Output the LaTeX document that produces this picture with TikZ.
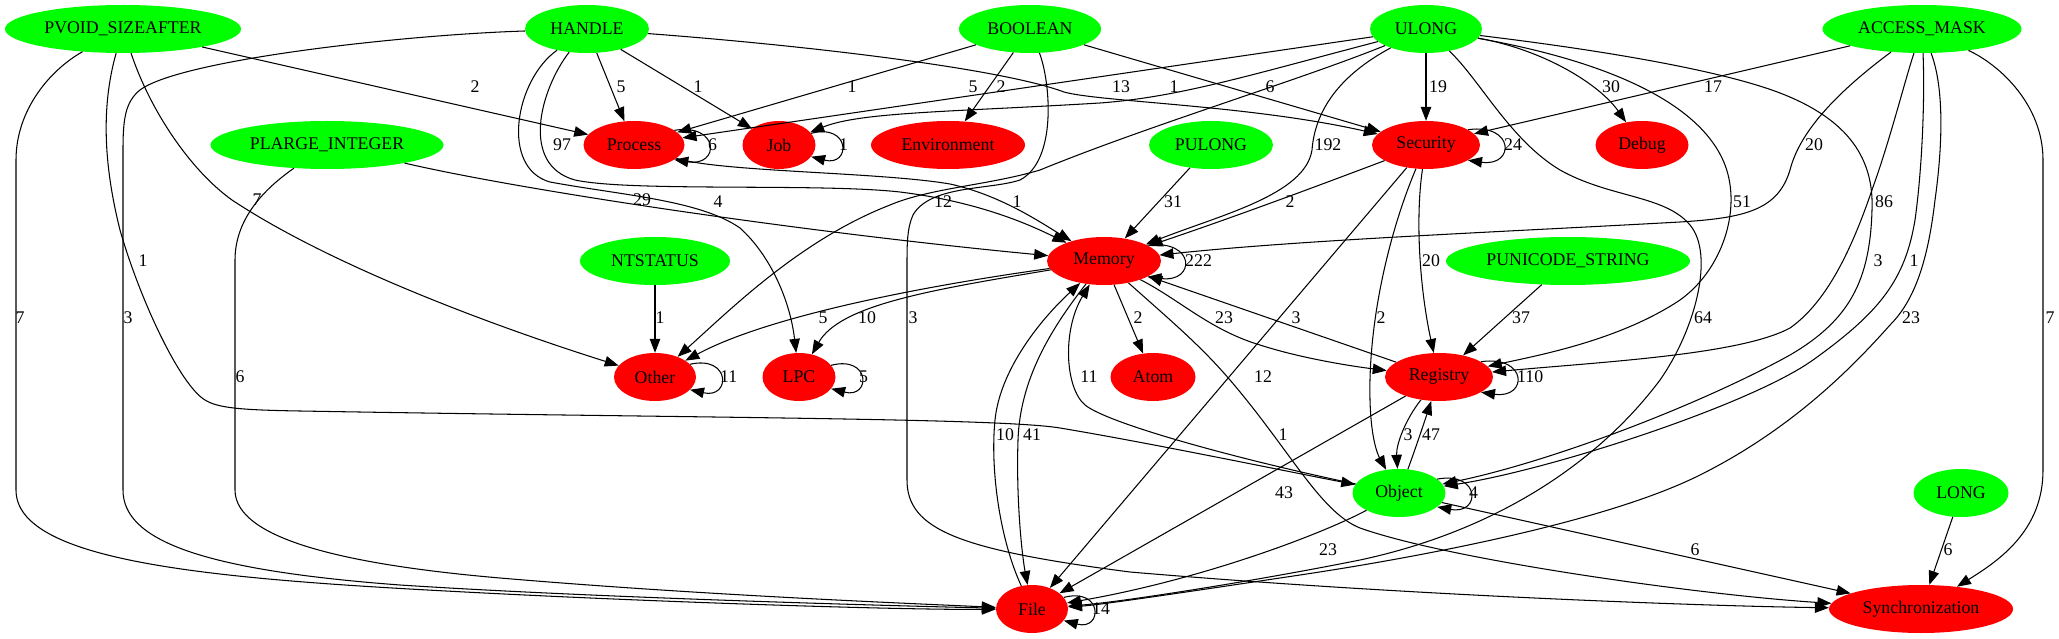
\documentclass[tikz,border=0pt]{standalone}
\usepackage{fontspec}
\setmainfont{Liberation Serif}
\usetikzlibrary{shapes.geometric,arrows.meta}
\definecolor{gvgreen}{RGB}{0,255,0}
\definecolor{gvred}{RGB}{255,0,0}
\begin{document}
\begin{tikzpicture}[x=1pt,y=-1pt,font=\fontsize{17.8}{20}\selectfont,
  gnode/.style={ellipse,fill=gvgreen,draw=none,inner sep=0pt,minimum height=48pt},
  rnode/.style={ellipse,fill=gvred,draw=none,inner sep=0pt,minimum height=48pt},
  conn/.style={draw=black,line width=1.05pt,-{Triangle[length=14pt,width=10.5pt]}},
  elab/.style={inner sep=0pt},
  looplab/.style={inner sep=0pt,anchor=west}]
\useasboundingbox (0,0) rectangle (2059,639);
% nodes
\node[gnode,minimum width=236pt] (PV) at (123,29) {PVOID\_SIZEAFTER};
\node[gnode,minimum width=124pt] (HA) at (587,29) {HANDLE};
\node[gnode,minimum width=142pt] (BO) at (1030,29) {BOOLEAN};
\node[gnode,minimum width=112pt] (UL) at (1426,29) {ULONG};
\node[gnode,minimum width=199pt] (AM) at (1922,29) {ACCESS\_MASK};
\node[gnode,minimum width=233pt] (PL) at (327,145) {PLARGE\_INTEGER};
\node[rnode,minimum width=101pt] (PR) at (634,145) {Process};
\node[rnode,minimum width=73pt] (JO) at (779,145) {Job};
\node[rnode,minimum width=154pt] (EN) at (948,145) {Environment};
\node[gnode,minimum width=124pt] (PU) at (1211,145) {PULONG};
\node[rnode,minimum width=108pt] (SE) at (1426,145) {Security};
\node[rnode,minimum width=93pt] (DE) at (1642,145) {Debug};
\node[gnode,minimum width=150pt] (NT) at (655,261) {NTSTATUS};
\node[rnode,minimum width=114pt] (ME) at (1104,261) {Memory};
\node[gnode,minimum width=244pt] (PS) at (1568,261) {PUNICODE\_STRING};
\node[rnode,minimum width=82pt] (OT) at (655,377) {Other};
\node[rnode,minimum width=73pt] (LP) at (799,377) {LPC};
\node[rnode,minimum width=85pt] (AT) at (1153,377) {Atom};
\node[rnode,minimum width=108pt] (RE) at (1439,377) {Registry};
\node[gnode,minimum width=93pt] (OB) at (1399,493) {Object};
\node[gnode,minimum width=95pt] (LO) at (1961,493) {LONG};
\node[rnode,minimum width=72pt] (FI) at (1032,609) {File};
\node[rnode,minimum width=184pt] (SY) at (1921,609) {Synchronization};
% straight edges
\draw[conn] (PV) -- (PR);
\draw[conn] (HA) -- (PR);
\draw[conn] (HA) -- (JO);
\draw[conn] (BO) -- (PR);
\draw[conn] (UL) -- (PR);
\draw[conn] (BO) -- (EN);
\draw[conn] (BO) -- (SE);
\draw[conn] (UL) -- (SE);
\draw[conn] (AM) -- (SE);
\draw[conn] (PU) -- (ME);
\draw[conn] (ME) -- (AT);
\draw[conn] (RE) -- (ME);
\draw[conn] (SE) -- (FI);
\draw[conn] (PS) -- (RE);
\draw[conn] (NT) -- (OT);
\draw[conn] (RE) -- (FI);
\draw[conn] (OB) -- (SY);
\draw[conn] (LO) -- (SY);
% curved edges
\draw[conn] (HA) .. controls (800,45) and (1000,68) .. (1064,92) .. controls (1100,102) and (1250,105) .. (SE);
\draw[conn] (UL) .. controls (1250,75) and (1180,97) .. (1100,103) .. controls (950,112) and (860,112) .. (JO);
\draw[conn] (UL) .. controls (1545,50) and (1600,85) .. (DE);
\draw[conn] (PL) .. controls (520,190) and (800,232) .. (ME);
\draw[conn] (PR) .. controls (720,172) and (880,172) .. (950,184) .. controls (1000,195) and (1040,222) .. (ME);
\draw[conn] (HA) .. controls (540,90) and (520,165) .. (575,180) .. controls (630,192) and (820,183) .. (900,192) .. controls (980,202) and (1030,225) .. (ME);
\draw[conn] (HA) .. controls (515,80) and (500,168) .. (550,182) .. controls (620,195) and (700,200) .. (740,228) .. controls (770,255) and (790,300) .. (LP);
\draw[conn] (UL) .. controls (1340,75) and (1315,110) .. (1312,150) .. controls (1305,195) and (1220,215) .. (ME);
\draw[conn] (SE) .. controls (1320,185) and (1240,215) .. (ME);
\draw[conn] (AM) .. controls (1840,90) and (1800,130) .. (1790,170) .. controls (1778,210) and (1745,218) .. (1680,222) .. controls (1500,232) and (1300,240) .. (ME);
\draw[conn] (ME) .. controls (930,285) and (770,315) .. (OT);
\draw[conn] (ME) .. controls (930,290) and (840,305) .. (LP);
\draw[conn] (ME) .. controls (1180,300) and (1210,330) .. (1260,345) .. controls (1300,358) and (1350,366) .. (RE);
\draw[conn] (SE) .. controls (1415,220) and (1420,290) .. (RE);
\draw[conn] (SE) .. controls (1390,230) and (1368,320) .. (1370,400) .. controls (1371,440) and (1378,455) .. (OB);
\draw[conn] (UL) .. controls (1300,80) and (1150,125) .. (1040,170) .. controls (990,185) and (930,188) .. (890,205) .. controls (800,240) and (730,310) .. (OT);
\draw[conn] (BO) .. controls (1050,80) and (1058,160) .. (1020,180) .. controls (990,190) and (930,185) .. (913,215) .. controls (907,228) and (907,245) .. (907,265) -- (907,480) .. controls (907,530) and (960,550) .. (1130,572) .. controls (1400,595) and (1700,606) .. (SY);
\draw[conn] (HA) .. controls (400,35) and (180,60) .. (140,90) .. controls (125,102) and (123,120) .. (123,150) -- (123,490) .. controls (123,540) and (200,570) .. (400,585) .. controls (600,598) and (900,606) .. (FI);
\draw[conn] (PV) .. controls (50,70) and (16,110) .. (16,160) -- (16,490) .. controls (16,560) and (200,578) .. (446,591) .. controls (650,602) and (900,610) .. (FI);
\draw[conn] (PL) .. controls (270,185) and (235,215) .. (235,260) -- (235,490) .. controls (235,540) and (350,565) .. (500,578) .. controls (700,595) and (900,603) .. (FI);
\draw[conn] (PV) .. controls (150,110) and (190,170) .. (232,200) .. controls (330,265) and (490,325) .. (OT);
\draw[conn] (PV) .. controls (100,110) and (105,170) .. (120,230) .. controls (140,300) and (180,385) .. (205,400) .. controls (218,408) and (240,410) .. (300,411) .. controls (700,418) and (1000,418) .. (1060,428) .. controls (1150,443) and (1280,470) .. (OB);
\draw[conn] (OB) .. controls (1250,462) and (1110,425) .. (1085,405) .. controls (1065,388) and (1062,330) .. (ME);
\draw[conn] (FI) .. controls (1000,540) and (990,470) .. (995,420) .. controls (1000,370) and (1040,320) .. (ME);
\draw[conn] (ME) .. controls (1050,330) and (1020,380) .. (1018,440) .. controls (1016,500) and (1022,555) .. (FI);
\draw[conn] (ME) .. controls (1170,320) and (1200,345) .. (1230,380) .. controls (1290,450) and (1320,512) .. (1360,528) .. controls (1450,560) and (1700,595) .. (SY);
\draw[conn] (RE) .. controls (1405,420) and (1396,445) .. (OB);
\draw[conn] (OB) .. controls (1415,450) and (1425,420) .. (RE);
\draw[conn] (OB) .. controls (1320,535) and (1200,580) .. (FI);
\draw[conn] (AM) .. controls (2000,65) and (2043,105) .. (2043,160) -- (2043,470) .. controls (2043,530) and (2000,560) .. (SY);
\draw[conn] (AM) .. controls (1945,90) and (1942,150) .. (1935,200) .. controls (1928,260) and (1915,300) .. (1890,325) .. controls (1850,370) and (1790,430) .. (1700,475) .. controls (1600,525) and (1400,560) .. (1300,575) .. controls (1200,590) and (1100,605) .. (FI);
\draw[conn] (UL) .. controls (1480,80) and (1510,140) .. (1560,170) .. controls (1610,198) and (1665,195) .. (1690,225) .. controls (1715,255) and (1695,330) .. (1660,380) .. controls (1600,460) and (1500,530) .. (1360,560) .. controls (1250,582) and (1120,602) .. (FI);
\draw[conn] (UL) .. controls (1600,50) and (1720,70) .. (1780,93) .. controls (1850,120) and (1874,160) .. (1872,210) .. controls (1870,280) and (1850,320) .. (1790,355) .. controls (1700,405) and (1550,462) .. (OB);
\draw[conn] (AM) .. controls (1925,100) and (1922,170) .. (1915,220) .. controls (1905,280) and (1880,312) .. (1813,360) .. controls (1750,405) and (1550,470) .. (OB);
\draw[conn] (AM) .. controls (1905,80) and (1890,140) .. (1873,187) .. controls (1855,240) and (1830,300) .. (1790,328) .. controls (1740,355) and (1600,362) .. (RE);
\draw[conn] (UL) .. controls (1600,60) and (1700,100) .. (1725,165) .. controls (1742,210) and (1722,270) .. (1680,300) .. controls (1620,340) and (1540,355) .. (RE);
% self loops
\draw[conn] (PR.20) .. controls (720,123) and (720,167) .. (PR.-20);
\draw[conn] (JO.20) .. controls (851,123) and (851,167) .. (JO.-20);
\draw[conn] (SE.20) .. controls (1515,123) and (1515,167) .. (SE.-20);
\draw[conn] (ME.20) .. controls (1196,239) and (1196,283) .. (ME.-20);
\draw[conn] (OT.20) .. controls (731,355) and (731,399) .. (OT.-20);
\draw[conn] (LP.20) .. controls (871,355) and (871,399) .. (LP.-20);
\draw[conn] (RE.20) .. controls (1528,355) and (1528,399) .. (RE.-20);
\draw[conn] (OB.20) .. controls (1481,471) and (1481,515) .. (OB.-20);
\draw[conn] (FI.20) .. controls (1103,587) and (1103,631) .. (FI.-20);
% loop labels
\node[looplab] (lPR) at (708,145) {6};
\node[looplab] (lJO) at (839,145) {1};
\node[looplab] (lSE) at (1504,145) {24};
\node[looplab] (lME) at (1185,261) {222};
\node[looplab] (lOT) at (720,377) {11};
\node[looplab] (lLP) at (859,377) {5};
\node[looplab] (lRE) at (1517,377) {110};
\node[looplab] (lOB) at (1469,493) {4};
\node[looplab] (lFI) at (1092,609) {14};
% edge labels
\node[elab] (a1) at (475,87) {2};
\node[elab] (a2) at (621,87) {5};
\node[elab] (a3) at (698,87) {1};
\node[elab] (a4) at (852,87) {1};
\node[elab] (a5) at (973,87) {5};
\node[elab] (a6) at (1001,87) {2};
\node[elab] (a7) at (1121,87) {13};
\node[elab] (a8) at (1174,87) {1};
\node[elab] (a9) at (1270,87) {6};
\node[elab] (a10) at (1438,87) {19};
\node[elab] (a11) at (1611,87) {30};
\node[elab] (a12) at (1713,87) {17};
\node[elab] (b1) at (562,145) {97};
\node[elab] (b2) at (1328,145) {192};
\node[elab] (b3) at (1814,145) {20};
\node[elab] (c1) at (257,200) {7};
\node[elab] (c2) at (642,200) {29};
\node[elab] (c3) at (718,202) {4};
\node[elab] (c4) at (943,202) {12};
\node[elab] (c5) at (1017,202) {1};
\node[elab] (c6) at (1173,202) {31};
\node[elab] (c7) at (1290,202) {2};
\node[elab] (c8) at (1742,202) {51};
\node[elab] (c9) at (1884,202) {86};
\node[elab] (d1) at (143,261) {1};
\node[elab] (d2) at (1431,261) {20};
\node[elab] (d3) at (1878,261) {3};
\node[elab] (d4) at (1914,261) {1};
\node[elab] (e1) at (20,318) {7};
\node[elab] (e2) at (128,318) {3};
\node[elab] (e3) at (660,318) {1};
\node[elab] (e4) at (823,318) {5};
\node[elab] (e5) at (867,318) {10};
\node[elab] (e6) at (913,318) {3};
\node[elab] (e7) at (1138,318) {2};
\node[elab] (e8) at (1224,318) {23};
\node[elab] (e9) at (1296,318) {3};
\node[elab] (e10) at (1381,318) {2};
\node[elab] (e11) at (1521,318) {37};
\node[elab] (e12) at (1703,318) {64};
\node[elab] (e13) at (1911,318) {23};
\node[elab] (e14) at (2050,318) {7};
\node[elab] (f1) at (240,377) {6};
\node[elab] (f2) at (1089,377) {11};
\node[elab] (f3) at (1263,377) {12};
\node[elab] (g1) at (1005,435) {10};
\node[elab] (g2) at (1032,435) {41};
\node[elab] (g3) at (1283,435) {1};
\node[elab] (g4) at (1408,435) {3};
\node[elab] (g5) at (1431,435) {47};
\node[elab] (h1) at (1284,493) {43};
\node[elab] (i1) at (1328,550) {23};
\node[elab] (i2) at (1695,550) {6};
\node[elab] (i3) at (1948,550) {6};
\end{tikzpicture}
\end{document}
